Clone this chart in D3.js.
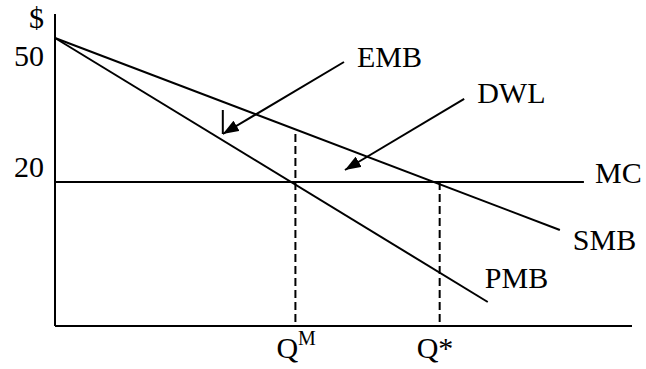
<!DOCTYPE html>
<html>
<head>
<meta charset="utf-8">
<script src="https://cdn.jsdelivr.net/npm/d3@7"></script>
<style>
  body { margin: 0; background: #fff; }
  text { font-family: "Liberation Serif", "Times New Roman", serif; fill: #000; }
</style>
</head>
<body>
<div class="chart"></div>
<script>
// curves as [quantity, price] end points
const smb = [[0, 50], [10.5, 10]];
const pmb = [[0, 50], [9, -5]];
const mcPrice = 20;
const mcEnd = 11;
const quantities = [{ name: "M", q: 5, top: 30 }, { name: "*", q: 8, top: 20 }];
const priceTicks = [50, 20];
const curveLabels = [
  { text: "MC", q: 11.23, p: 19.8 },
  { text: "SMB", q: 10.77, p: 5.8 },
  { text: "PMB", q: 8.94, p: -2.1 },
  { text: "EMB", q: 6.28, p: 44 },
  { text: "DWL", q: 8.78, p: 36.5 }
];
const arrows = [
  { from: [6.01, 45], to: [3.49, 30] },
  { from: [8.51, 37.3], to: [6.03, 22.5] }
];

var width = 646, height = 369, fs = 30;

var svg = d3.select('div.chart').append('svg')
    .attr('width', width)
    .attr('height', height);

var x = d3.scaleLinear().domain([0, 12]).range([55, 632]);
var y = d3.scaleLinear().domain([-10, 55]).range([326, 14]);

svg.append('defs').append('marker')
    .attr('id', 'head')
    .attr('markerUnits', 'userSpaceOnUse')
    .attr('viewBox', '0 0 16 12')
    .attr('refX', 16).attr('refY', 6)
    .attr('markerWidth', 16).attr('markerHeight', 12)
    .attr('orient', 'auto')
  .append('path')
    .attr('d', 'M0,0 L16,6 L0,12 Z')
    .attr('fill', '#000');

// axes frame
svg.append('line')
    .attr('x1', x(0)).attr('x2', x(0))
    .attr('y1', y(55)).attr('y2', y(-10))
    .attr('stroke', '#000').attr('stroke-width', 2);
svg.append('line')
    .attr('x1', x(0)).attr('x2', x(12))
    .attr('y1', y(-10)).attr('y2', y(-10))
    .attr('stroke', '#000').attr('stroke-width', 2);

// dashed quantity guides
svg.selectAll('line.guide')
    .data(quantities)
    .enter().append('line')
    .attr('class', 'guide')
    .attr('x1', d => x(d.q)).attr('x2', d => x(d.q))
    .attr('y1', d => y(d.top)).attr('y2', y(-10))
    .attr('stroke', '#000').attr('stroke-width', 2)
    .attr('stroke-dasharray', '8,4');

// MC
svg.append('line')
    .attr('x1', x(0)).attr('x2', x(mcEnd))
    .attr('y1', y(mcPrice)).attr('y2', y(mcPrice))
    .attr('stroke', '#000').attr('stroke-width', 2);

var line = d3.line().x(d => x(d[0])).y(d => y(d[1]));
[smb, pmb].forEach(c => {
  svg.append('path')
      .attr('d', line(c))
      .attr('fill', 'none')
      .attr('stroke', '#000').attr('stroke-width', 2);
});

// arrows
svg.selectAll('line.arrow')
    .data(arrows)
    .enter().append('line')
    .attr('class', 'arrow')
    .attr('x1', d => x(d.from[0])).attr('y1', d => y(d.from[1]))
    .attr('x2', d => x(d.to[0])).attr('y2', d => y(d.to[1]))
    .attr('stroke', '#000').attr('stroke-width', 2)
    .attr('marker-end', 'url(#head)');

// little stray tick at the EMB arrow tip
svg.append('line')
    .attr('x1', x(arrows[0].to[0])).attr('x2', x(arrows[0].to[0]))
    .attr('y1', y(35)).attr('y2', y(arrows[0].to[1]))
    .attr('stroke', '#000').attr('stroke-width', 2);

// labels
svg.selectAll('text.curve')
    .data(curveLabels)
    .enter().append('text')
    .attr('class', 'curve')
    .attr('x', d => x(d.q)).attr('y', d => y(d.p))
    .attr('font-size', fs)
    .text(d => d.text);

svg.append('text')
    .attr('x', 44).attr('y', y(55) + 14)
    .attr('text-anchor', 'end')
    .attr('font-size', fs)
    .text('$');

svg.selectAll('text.ptick')
    .data(priceTicks)
    .enter().append('text')
    .attr('class', 'ptick')
    .attr('x', 44)
    .attr('y', d => d === 50 ? y(d) + 28 : y(d) - 5)
    .attr('text-anchor', 'end')
    .attr('font-size', fs)
    .text(d => d);

var qt = svg.selectAll('text.qtick')
    .data(quantities)
    .enter().append('text')
    .attr('class', 'qtick')
    .attr('x', d => x(d.q) - (d.name === 'M' ? 19 : 23))
    .attr('y', 358)
    .attr('font-size', fs);
qt.append('tspan').text('Q');
qt.append('tspan')
    .attr('font-size', d => d.name === 'M' ? 20 : fs)
    .attr('dy', d => d.name === 'M' ? -13 : 0)
    .text(d => d.name);
</script>
</body>
</html>
